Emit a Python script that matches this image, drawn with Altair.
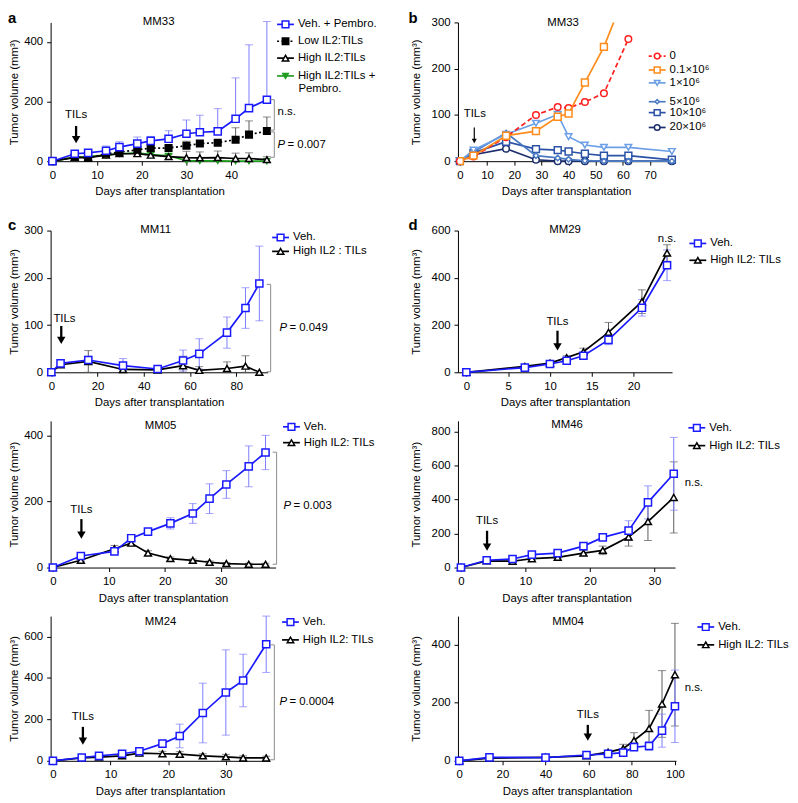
import altair as alt
import pandas as pd

FONT = "Liberation Sans"
FS = 11.5
XT = "Days after transplantation"
YT = "Tumor volume (mm³)"

BLUE = "#1a1aff"
BLUE_ERR = "#7c7cff"
GRAY_ERR = "#5a5a5a"
GREEN = "#1e9e1e"
GREEN_ERR = "#45b045"
BRK = "#8c8c8c"
LW = 1.7

# ---------------- panel a : MM33 ----------------
a_days = [0, 5, 8, 12, 15, 19, 22, 26, 30, 33, 37, 41, 44, 48]
a_veh_pembro = [0, 25, 28, 35, 47, 59, 68, 75, 92, 97, 100, 142, 178, 206]
a_veh_pembro_err = [0, 8, 5, 16, 18, 22, 15, 27, 46, 57, 76, 137, 212, 262]
a_low = [0, 14, 11, 25, 30, 38, 44, 44, 52, 59, 62, 72, 89, 101]
a_low_err = [0, 4, 3, 8, 8, 10, 8, 8, 15, 9, 7, 40, 46, 47]
a_high = [0, 13, 12, 20, 25, 25, 20, 15, 12, 11, 12, 9, 9, 5]
a_high_err = [0, 4, 5, 6, 8, 13, 10, 7, 21, 20, 22, 18, 19, 10]
a_high_pembro = [0, 13, 15, 20, 25, 28, 22, 18, 2, 1, 1, 0, 0, 0]
a_high_pembro_err = [0, 4, 4, 6, 8, 13, 8, 8, 2, 1, 1, 0, 0, 0]

# ---------------- panel b : MM33 dose ----------------
b_days_short = [0, 5, 17, 28, 36, 40, 46, 53, 62]
b_days_long = [0, 5, 17, 28, 36, 40, 46, 53, 62, 78]
b_dose_0 = [0, 10, 52, 100, 117, 115, 128, 147, 264]
b_dose_01 = [0, 12, 55, 65, 96, 103, 170, 247, 380]
b_dose_1 = [0, 24, 58, 82, 101, 53, 35, 30, 30, 21]
b_dose_5 = [0, 20, 61, 12, 7, 4, 1, 0, 0, 0]
b_dose_10 = [0, 18, 42, 26, 24, 21, 16, 12, 12, 3]
b_dose_20 = [0, 14, 27, 3, 0, 0, 0, 0, 0, 0]
b_labels = ["0", "0.1×10⁶", "1×10⁶", "5×10⁶", "10×10⁶", "20×10⁶"]

# ---------------- panel c : MM11 ----------------
c_days = [0, 4, 16, 31, 46, 57, 64, 76, 84, 90]
c_veh = [0, 19, 26, 14, 7, 25, 39, 84, 136, 188]
c_veh_err = [0, 5, 8, 15, 3, 22, 32, 33, 43, 79]
c_high = [0, 16, 23, 6, 5, 14, 4, 8, 13, 0]
c_high_err = [0, 4, 23, 3, 2, 20, 8, 14, 22, 0]

# ---------------- panel d : MM29 ----------------
d_days = [0, 7, 10, 12, 14, 17, 21, 24]
d_veh = [0, 20, 35, 49, 70, 137, 273, 453]
d_veh_err = [0, 5, 5, 6, 8, 20, 35, 65]
d_high = [0, 25, 39, 62, 87, 169, 299, 505]
d_high_err = [0, 5, 6, 8, 15, 42, 50, 35]

# ---------------- MM05 ----------------
e_days = [0, 5, 11, 14, 17, 21, 25, 28, 31, 35, 38]
e_veh = [0, 35, 49, 89, 109, 134, 164, 209, 252, 307, 349]
e_veh_err = [0, 4, 6, 8, 6, 17, 30, 45, 42, 62, 52]
e_high = [0, 22, 57, 74, 44, 27, 22, 16, 12, 10, 10]
e_high_err = [0, 4, 10, 8, 7, 5, 4, 4, 3, 3, 3]

# ---------------- MM46 ----------------
f_days = [0, 4, 8, 11, 15, 19, 22, 26, 29, 33]
f_veh = [0, 43, 50, 76, 85, 126, 177, 217, 383, 551]
f_veh_err = [0, 6, 8, 10, 8, 12, 15, 58, 97, 214]
f_high = [0, 39, 37, 52, 60, 85, 101, 179, 270, 412]
f_high_err = [0, 6, 8, 8, 8, 15, 25, 53, 111, 209]

# ---------------- MM24 ----------------
g_days = [0, 5, 8, 12, 15, 19, 22, 26, 30, 33, 37]
g_veh = [0, 16, 24, 34, 46, 83, 120, 231, 330, 388, 563]
g_veh_err = [0, 4, 5, 6, 8, 10, 57, 144, 206, 127, 136]
g_high = [0, 14, 18, 24, 37, 34, 32, 24, 19, 14, 14]
g_high_err = [0, 4, 4, 6, 8, 12, 12, 10, 12, 10, 8]

# ---------------- MM04 ----------------
h_days = [0, 14, 40, 59, 69, 76, 81, 88, 94, 100]
h_veh = [0, 12, 11, 20, 24, 28, 47, 51, 104, 188]
h_veh_err = [0, 3, 3, 4, 5, 8, 10, 15, 57, 125]
h_high = [0, 9, 12, 17, 30, 42, 70, 111, 196, 297]
h_high_err = [0, 3, 3, 4, 6, 15, 27, 63, 115, 177]

ONE = pd.DataFrame({"k": [0]})


def make_cfg(xdom, xticks, ydom, yticks, title_x, yrange=None, xoffset=0):
    xs = alt.Scale(domain=xdom, nice=False, zero=False)
    if yrange is not None:
        ys = alt.Scale(domain=ydom, nice=False, zero=False, range=yrange)
    else:
        ys = alt.Scale(domain=ydom, nice=False, zero=False)
    xa = alt.Axis(values=xticks, title=XT, offset=xoffset, titlePadding=5.5, labelFlush=False)
    ya = alt.Axis(values=yticks, title=YT, titleX=title_x, titleBaseline="middle", labelFlush=False)
    return dict(xs=xs, ys=ys, xa=xa, ya=ya)


def X(cfg, field):
    return alt.X(field, type="quantitative", scale=cfg["xs"], axis=cfg["xa"])


def Y(cfg, field):
    return alt.Y(field, type="quantitative", scale=cfg["ys"], axis=cfg["ya"])


def XD(cfg, v):
    return alt.XDatum(v, type="quantitative", scale=cfg["xs"], axis=cfg["xa"])


def YD(cfg, v):
    return alt.YDatum(v, type="quantitative", scale=cfg["ys"], axis=cfg["ya"])


def series(cfg, days, vals, errs, color, ecolor, shape, fill, size,
           dash=None, two_sided=True, clip=False):
    n = len(vals)
    e = errs if errs is not None else [0] * n
    lo = [max(0, v - x) if two_sided else v for v, x in zip(vals, e)]
    hi = [v + x for v, x in zip(vals, e)]
    df = pd.DataFrame({"day": days, "v": vals, "lo": lo, "hi": hi, "e": e})
    base = alt.Chart(df)
    errl, linel = [], []
    if errs is not None:
        eb = base.transform_filter("datum.e > 0")
        errl.append(eb.mark_rule(color=ecolor, strokeWidth=1).encode(
            x=X(cfg, "day"), y=Y(cfg, "lo"), y2=alt.Y2("hi")))
        errl.append(eb.mark_tick(color=ecolor, orient="horizontal", size=8, thickness=1).encode(
            x=X(cfg, "day"), y=Y(cfg, "hi")))
        if two_sided:
            errl.append(eb.mark_tick(color=ecolor, orient="horizontal", size=8, thickness=1).encode(
                x=X(cfg, "day"), y=Y(cfg, "lo")))
    lk = dict(color=color, strokeWidth=LW, clip=clip)
    if dash:
        lk["strokeDash"] = dash
    linel.append(base.mark_line(**lk).encode(x=X(cfg, "day"), y=Y(cfg, "v")))
    linel.append(base.mark_point(shape=shape, filled=True, fill=fill, stroke=color,
                                 strokeWidth=1.5, size=size, opacity=1, clip=clip).encode(
        x=X(cfg, "day"), y=Y(cfg, "v")))
    return errl, linel


def ptext(x, y, s, **kw):
    return alt.Chart(ONE).mark_text(**kw).encode(
        x=alt.value(x), y=alt.value(y), text=alt.value(s))


def legend_item(px, py, label, color, shape, fill, size, dash=None, half=8.5):
    c = alt.Chart(ONE)
    rk = dict(color=color, strokeWidth=LW)
    if dash:
        rk["strokeDash"] = dash
    return [
        c.mark_rule(**rk).encode(x=alt.value(px - half), x2=alt.value(px + half), y=alt.value(py)),
        c.mark_point(shape=shape, filled=True, fill=fill, stroke=color, strokeWidth=1.5,
                     size=size, opacity=1).encode(x=alt.value(px), y=alt.value(py)),
        c.mark_text(align="left", baseline="middle").encode(
            x=alt.value(px + half + 4), y=alt.value(py), text=alt.value(label)),
    ]


def bracket(cfg, px, vtop, vbot):
    c = alt.Chart(ONE)
    return [
        c.mark_rule(color=BRK, strokeWidth=1).encode(x=alt.value(px), y=YD(cfg, vtop), y2=alt.Y2Datum(vbot)),
        c.mark_rule(color=BRK, strokeWidth=1).encode(x=alt.value(px - 4), x2=alt.value(px), y=YD(cfg, vtop)),
        c.mark_rule(color=BRK, strokeWidth=1).encode(x=alt.value(px - 4), x2=alt.value(px), y=YD(cfg, vbot)),
    ]


def pval(cfg, px, v, label):
    c = alt.Chart(ONE)
    return [
        c.mark_text(align="left", baseline="middle", fontStyle="italic").encode(
            x=alt.value(px), y=YD(cfg, v), text=alt.value("P")),
        c.mark_text(align="left", baseline="middle").encode(
            x=alt.value(px + 10), y=YD(cfg, v), text=alt.value("= " + label)),
    ]


def ns_text(cfg, px, v):
    return alt.Chart(ONE).mark_text(align="center", baseline="middle").encode(
        x=alt.value(px), y=YD(cfg, v), text=alt.value("n.s."))


def tils(cfg, tday, tval, aday, top, tip, head=72, shaft=2.3):
    c = alt.Chart(ONE)
    h = (head ** 0.5) / 2 * 0.866
    return [
        c.mark_text(align="center", baseline="middle").encode(
            x=XD(cfg, tday), y=YD(cfg, tval), text=alt.value("TILs")),
        c.mark_rule(color="black", strokeWidth=shaft, y2Offset=-h).encode(
            x=XD(cfg, aday), y=YD(cfg, top), y2=alt.Y2Datum(tip)),
        c.mark_point(shape="triangle-down", filled=True, color="black", size=head,
                     opacity=1, yOffset=-h).encode(x=XD(cfg, aday), y=YD(cfg, tip)),
    ]


def two_group_panel(cfg, days, veh, veh_err, high, high_err, w, h, title, tpos,
                    leg_x, leg_y1, leg_y2, high_label="High IL2: TILs"):
    e1, l1 = series(cfg, days, high, high_err, "black", GRAY_ERR, "triangle-up", "white", 48)
    e2, l2 = series(cfg, days, veh, veh_err, BLUE, BLUE_ERR, "square", "white", 52)
    layers = e1 + e2 + l1 + l2
    layers.append(ptext(tpos[0], tpos[1], title, align="center", baseline="middle"))
    layers += legend_item(leg_x, leg_y1, "Veh.", BLUE, "square", "white", 46)
    layers += legend_item(leg_x, leg_y2, high_label, "black", "triangle-up", "white", 42)
    return layers, w, h


# ---------- panel a ----------
cfg_a = make_cfg([-0.4, 48.4], [0, 10, 20, 30, 40], [0, 465], [0, 200, 400], -36,
                 yrange=[140, 0], xoffset=-21)
ea1, la1 = series(cfg_a, a_days, a_high_pembro, a_high_pembro_err, GREEN, GREEN_ERR,
                  "triangle-down", GREEN, 32, two_sided=False)
ea2, la2 = series(cfg_a, a_days, a_high, a_high_err, "black", GRAY_ERR,
                  "triangle-up", "white", 46, two_sided=False)
ea3, la3 = series(cfg_a, a_days, a_low, a_low_err, "black", GRAY_ERR,
                  "square", "black", 44, dash=[2, 2.5], two_sided=False)
ea4, la4 = series(cfg_a, a_days, a_veh_pembro, a_veh_pembro_err, BLUE, BLUE_ERR,
                  "square", "white", 52, two_sided=False)
layers_a = ea1 + ea2 + ea3 + ea4 + la1 + la2 + la3 + la4
layers_a.append(ptext(-43, -4, "a", align="left", baseline="middle", fontSize=15, fontWeight="bold"))
layers_a.append(ptext(109, 0, "MM33", align="center", baseline="middle"))
layers_a += legend_item(237, 2, "Veh. + Pembro.", BLUE, "square", "white", 46)
layers_a += legend_item(237, 19, "Low IL2:TILs", "black", "square", "black", 42, dash=[2, 2.5])
layers_a += legend_item(237, 36, "High IL2:TILs", "black", "triangle-up", "white", 42)
layers_a += legend_item(237, 54, "High IL2:TILs +", GREEN, "triangle-down", GREEN, 30)
layers_a.append(ptext(250, 67, "Pembro.", align="left", baseline="middle"))
layers_a += bracket(cfg_a, 225.7, 206, 104)
layers_a += bracket(cfg_a, 225.7, 98, 13)
layers_a.append(alt.Chart(ONE).mark_text(align="left", baseline="middle").encode(
    x=alt.value(229), y=YD(cfg_a, 164), text=alt.value("n.s.")))
layers_a += pval(cfg_a, 229, 54, "0.007")
layers_a += tils(cfg_a, 5.3, 155, 5.3, 118, 60)
panel_a = alt.layer(*layers_a).properties(width=220, height=161)

# ---------- panel b ----------
cfg_b = make_cfg([-0.7, 78.8], [0, 10, 20, 30, 40, 50, 60, 70], [0, 300], [0, 100, 200, 300], -42,
                 yrange=[140, 0], xoffset=-21)
B_COLORS = ["#ff2020", "#ff8c1a", "#6c9fe6", "#4a7bc4", "#2a52a6", "#1b2d6b"]
B_SHAPES = ["circle", "square", "triangle-down", "diamond", "square", "circle"]
B_SIZES = [44, 48, 44, 30, 48, 44]
b_series = [(b_days_short, b_dose_0), (b_days_short, b_dose_01), (b_days_long, b_dose_1),
            (b_days_long, b_dose_5), (b_days_long, b_dose_10), (b_days_long, b_dose_20)]
layers_b = []
for i in [5, 4, 3, 2, 0, 1]:
    dd, vv = b_series[i]
    _, lb = series(cfg_b, dd, vv, None, B_COLORS[i], None, B_SHAPES[i], "white", B_SIZES[i],
                   dash=[5, 3] if i == 0 else None, clip=(i == 1))
    layers_b += lb
layers_b.append(ptext(-50, -4, "b", align="left", baseline="middle", fontSize=15, fontWeight="bold"))
layers_b.append(ptext(106, 1, "MM33", align="center", baseline="middle"))
b_leg_y = [34, 48, 61, 80, 91, 106]
for i in range(6):
    layers_b += legend_item(201, b_leg_y[i], b_labels[i], B_COLORS[i], B_SHAPES[i], "white",
                            B_SIZES[i] - 12, dash=[3, 2] if i == 0 else None)
layers_b += tils(cfg_b, 5.5, 101, 5.3, 73, 39, head=26, shaft=1.2)
panel_b = alt.layer(*layers_b).properties(width=218, height=161)

# ---------- panel c ----------
cfg_c = make_cfg([-0.3, 93.6], [0, 20, 40, 60, 80], [0, 300], [0, 100, 200, 300], -36)
layers_c, wc, hc = two_group_panel(cfg_c, c_days, c_veh, c_veh_err, c_high, c_high_err,
                                   219, 143, "MM11", (106, -1), 232, 7, 21,
                                   high_label="High IL2 : TILs")
layers_c.append(ptext(-43, -6, "c", align="left", baseline="middle", fontSize=15, fontWeight="bold"))
layers_c += bracket(cfg_c, 222, 186, 1)
layers_c += pval(cfg_c, 231, 94, "0.049")
layers_c += tils(cfg_c, 5.7, 113, 4.3, 98, 60)
panel_c = alt.layer(*layers_c).properties(width=wc, height=hc)

# ---------- panel d ----------
cfg_d = make_cfg([-1.0, 24.6], [0, 5, 10, 15, 20], [0, 600], [0, 200, 400, 600], -42)
layers_d, wd, hd = two_group_panel(cfg_d, d_days, d_veh, d_veh_err, d_high, d_high_err,
                                   216, 143, "MM29", (108, -1), 242, 13, 30)
layers_d.append(ptext(-50, -6, "d", align="left", baseline="middle", fontSize=15, fontWeight="bold"))
layers_d.append(alt.Chart(ONE).mark_text(align="center", baseline="middle").encode(
    x=XD(cfg_d, 24), y=YD(cfg_d, 566), text=alt.value("n.s.")))
layers_d += tils(cfg_d, 10.9, 214, 10.9, 176, 92)
panel_d = alt.layer(*layers_d).properties(width=wd, height=hd)

# ---------- MM05 ----------
cfg_e = make_cfg([-0.4, 39.8], [0, 10, 20, 30], [0, 445], [0, 200, 400], -36)
layers_e, we, he = two_group_panel(cfg_e, e_days, e_veh, e_veh_err, e_high, e_high_err,
                                   227, 148, "MM05", (111, 5), 243, 6, 22)
layers_e += bracket(cfg_e, 228, 350, 10)
layers_e += pval(cfg_e, 235, 186, "0.003")
layers_e += tils(cfg_e, 5.1, 174, 5.1, 147, 87)
panel_e = alt.layer(*layers_e).properties(width=we, height=he)

# ---------- MM46 ----------
cfg_f = make_cfg([-0.46, 33.2], [0, 10, 20, 30], [0, 862], [0, 200, 400, 600, 800], -42)
layers_f, wf, hf = two_group_panel(cfg_f, f_days, f_veh, f_veh_err, f_high, f_high_err,
                                   219, 148, "MM46", (110, 4), 241, 7, 25)
layers_f.append(ns_text(cfg_f, 238, 495))
layers_f += tils(cfg_f, 4.05, 274, 4.05, 216, 99)
panel_f = alt.layer(*layers_f).properties(width=wf, height=hf)

# ---------- MM24 ----------
cfg_g = make_cfg([-0.4, 37.6], [0, 10, 20, 30], [0, 699], [0, 200, 400, 600], -36)
layers_g, wg, hg = two_group_panel(cfg_g, g_days, g_veh, g_veh_err, g_high, g_high_err,
                                   221, 146, "MM24", (111, 6), 242, 6, 24)
layers_g += bracket(cfg_g, 225.7, 560, 5)
layers_g += pval(cfg_g, 231, 284, "0.0004")
layers_g += tils(cfg_g, 5.2, 212, 5.2, 164, 78)
panel_g = alt.layer(*layers_g).properties(width=wg, height=hg)

# ---------- MM04 ----------
cfg_h = make_cfg([-0.6, 100.5], [0, 20, 40, 60, 80, 100], [0, 499], [0, 200, 400], -42)
layers_h, wh, hh = two_group_panel(cfg_h, h_days, h_veh, h_veh_err, h_high, h_high_err,
                                   220, 146, "MM04", (111, 6), 250, 11, 29)
layers_h.append(ns_text(cfg_h, 238, 251))
layers_h += tils(cfg_h, 59.6, 158, 59.6, 124, 69)
panel_h = alt.layer(*layers_h).properties(width=wh, height=hh)

chart = alt.concat(
    panel_a, panel_b, panel_c, panel_d, panel_e, panel_f, panel_g, panel_h,
    columns=2, spacing={"row": 49, "column": 184}, bounds="flush", align="each",
).properties(padding=0).configure_view(stroke=None).configure_axis(
    labelFont=FONT, labelFontSize=FS, titleFont=FONT, titleFontSize=FS,
    titleFontWeight="normal", labelColor="black", titleColor="black",
    domainColor="black", tickColor="black", domainWidth=1, tickWidth=1,
    tickSize=4, labelPadding=4, grid=False,
).configure_text(font=FONT, fontSize=FS, color="black")

chart.save("out.html", embed_options={"renderer": "svg", "actions": False})
